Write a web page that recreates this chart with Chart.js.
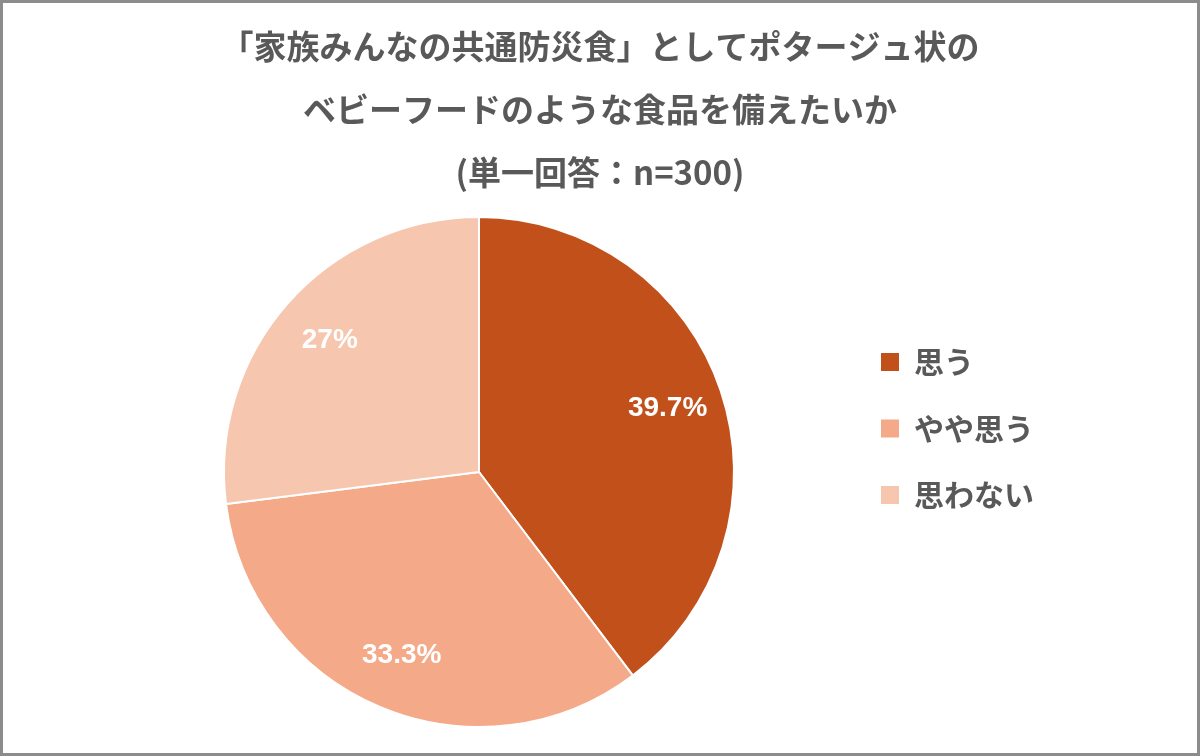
<!DOCTYPE html>
<html lang="ja">
<head>
<meta charset="utf-8">
<title>家族みんなの共通防災食</title>
<script src="https://cdn.jsdelivr.net/npm/chart.js@4.4.1/dist/chart.umd.min.js"></script>
<style>
  html, body { margin: 0; padding: 0; background: #fff; }
  #wrap { position: relative; width: 1200px; height: 756px; }
  #wrap canvas { position: absolute; left: 0; top: 0; }
  /* cadre gris autour de l'image */
  #cadre { position: absolute; left: 0; top: 0; width: 1200px; height: 756px;
           box-sizing: border-box; border: 3px solid #8c8c8c; pointer-events: none; }
</style>
</head>
<body>
<div id="wrap">
  <canvas id="pie" width="1200" height="756"></canvas>
  <div id="cadre"></div>
</div>
<script>
// --- données ---
const categories = ['思う', 'やや思う', '思わない'];
const valeurs = [39.7, 33.3, 27];
const couleurs = ['#C1501B', '#F4AA88', '#F6C6AE'];
const titre = ['「家族みんなの共通防災食」としてポタージュ状の', 'ベビーフードのような食品を備えたいか', '(単一回答：n=300)'];

const GRIS = '#595959';

// étiquettes de pourcentage dans les parts
const etiquettesParts = {
    id: 'etiquettesParts',
    // le titre est centré sur toute la largeur de l'image, pas seulement sur la zone padding
    afterLayout(chart) {
        const t = chart.titleBlock;
        if (t) {
            t.left = 0;
            t.right = chart.width;
            t.width = chart.width;
        }
    },
    afterDatasetsDraw(chart) {
        const ctx = chart.ctx;
        const meta = chart.getDatasetMeta(0);
        ctx.save();
        ctx.fillStyle = '#ffffff';
        ctx.font = 'bold 28px "Liberation Sans", Arial, sans-serif';
        ctx.textAlign = 'center';
        ctx.textBaseline = 'middle';
        meta.data.forEach((arc, i) => {
            const p = arc.getProps(['x', 'y', 'startAngle', 'endAngle', 'outerRadius'], true);
            const mid = (p.startAngle + p.endAngle) / 2;
            const r = p.outerRadius * 0.78;
            ctx.fillText(valeurs[i] + '%', p.x + Math.cos(mid) * r, p.y + Math.sin(mid) * r);
        });
        ctx.restore();
    }
};

new Chart(document.getElementById('pie'), {
    type: 'pie',
    data: {
        labels: categories,
        datasets: [{
            data: valeurs,
            backgroundColor: couleurs,
            borderColor: '#ffffff',
            borderWidth: 2
        }]
    },
    options: {
        responsive: false,
        animation: false,
        events: [],
        layout: { padding: { left: 113.5, right: 165.5, top: 0, bottom: 28 } },
        plugins: {
            tooltip: { enabled: false },
            title: {
                display: true,
                text: titre,
                color: GRIS,
                font: { family: '"Noto Sans CJK JP", sans-serif', size: 33, weight: 'bold', lineHeight: 1.909 },
                padding: { top: 15, bottom: 12 }
            },
            legend: {
                display: true,
                position: 'right',
                align: 'start',
                fullSize: false,
                maxWidth: 190,
                // titre vide : sert seulement à descendre la légende
                title: { display: true, text: '', font: { size: 10, lineHeight: 1 }, padding: { top: 84.5, bottom: 0 } },
                labels: {
                    boxWidth: 18,
                    boxHeight: 18,
                    padding: 36.5,
                    color: GRIS,
                    font: { family: '"Noto Sans CJK JP", sans-serif', size: 30, weight: 'bold' },
                    generateLabels: (chart) => chart.data.labels.map((t, i) => ({
                        text: t,
                        fillStyle: couleurs[i],
                        strokeStyle: couleurs[i],
                        lineWidth: 0,
                        fontColor: GRIS,
                        hidden: false,
                        index: i
                    }))
                }
            }
        }
    },
    plugins: [etiquettesParts]
});
</script>
</body>
</html>
